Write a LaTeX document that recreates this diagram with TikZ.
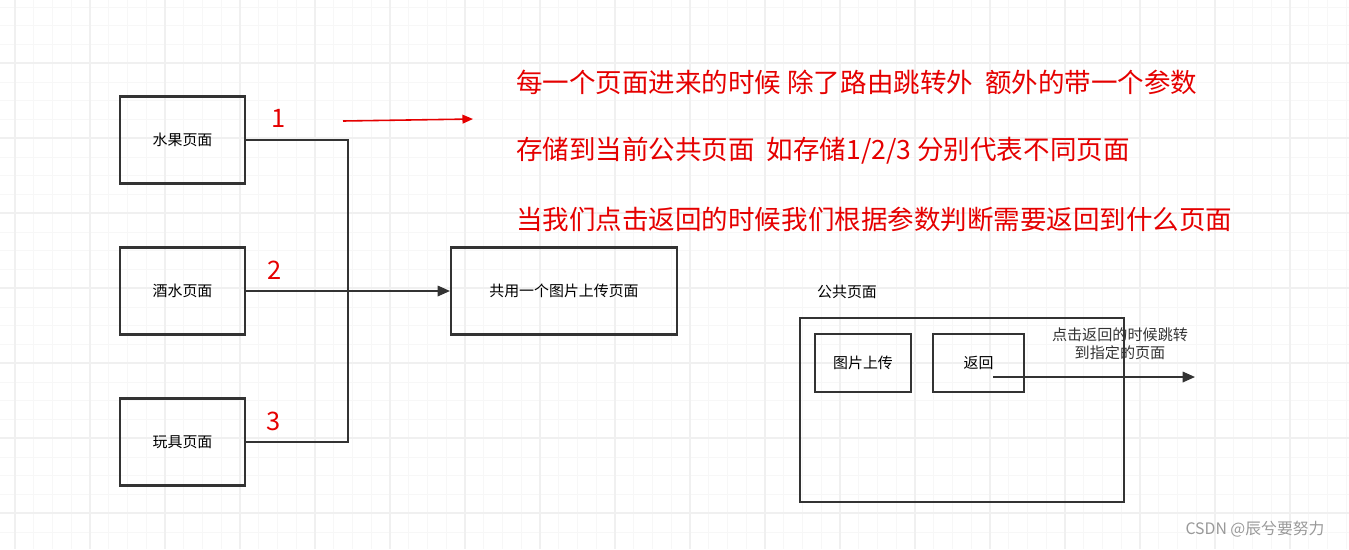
\documentclass[tikz,border=0pt]{standalone}
\usepackage{fontspec}
\setmainfont{Noto Sans CJK SC}
\usetikzlibrary{arrows.meta}

\tikzset{
  pagebox/.style={draw=black!80, line width=1.2pt, minimum width=2.5cm, minimum height=1.74cm, font=\fontsize{8.5}{10}\selectfont},
  smallbox/.style={draw=black!80, line width=1.2pt, minimum width=1.92cm, minimum height=1.16cm, font=\fontsize{8.5}{10}\selectfont},
  link/.style={draw=black!80, line width=0.9pt},
  redtext/.style={text=red!90!black, font=\fontsize{15.1}{18}\selectfont, anchor=west},
  rednum/.style={text=red!90!black, font=\fontsize{14.5}{17}\selectfont}
}

\begin{document}
\begin{tikzpicture}[x=0.02cm, y=-0.02cm]
  \useasboundingbox (0,0) rectangle (1349,549);

  % --- grid background ---
  \foreach \i in {0,...,71} {
    \pgfmathsetmacro{\gx}{15+18.75*\i}
    \draw[black!3, line width=0.5pt] (\gx,0) -- (\gx,549);
  }
  \foreach \j in {0,...,29} {
    \pgfmathsetmacro{\gy}{7+18.75*\j}
    \draw[black!3, line width=0.5pt] (0,\gy) -- (1349,\gy);
  }
  \foreach \i in {0,...,17} {
    \pgfmathsetmacro{\gx}{15+75*\i}
    \draw[black!6, line width=0.6pt] (\gx,0) -- (\gx,549);
  }
  \foreach \j in {0,...,7} {
    \pgfmathsetmacro{\gy}{63+75*\j}
    \draw[black!6, line width=0.6pt] (0,\gy) -- (1349,\gy);
  }

  % --- pages ---
  \node[pagebox] (fruit) at (182.5,140) {水果页面};
  \node[pagebox] (drink) at (182.5,291) {酒水页面};
  \node[pagebox] (toy) at (182.5,442) {玩具页面};
  \node[pagebox, minimum width=4.52cm] (upload) at (564,291) {共用一个图片上传页面};

  \coordinate (jtop) at (348,140);
  \coordinate (jbot) at (348,442);
  \draw[link] (fruit.east) -- (jtop) -- (jbot) -- (toy.east);
  \draw[link, -{Triangle[length=7pt,width=6pt]}] (drink.east) -- (upload.west);

  \node[rednum] (n1) at (279,118) {1};
  \node[rednum] (n2) at (275,270) {2};
  \node[rednum] (n3) at (274,421) {3};

  \coordinate (ra) at (343,121);
  \coordinate (rb) at (473,119);
  \draw[red!90!black, line width=0.9pt, -{Triangle[length=6pt,width=5pt]}] (ra) -- (rb);

  \node[redtext] (t1) at (510,82) {每一个页面进来的时候 除了路由跳转外\ \ 额外的带一个参数};
  \node[redtext] (t2) at (510,151) {存储到当前公共页面\ \ 如存储1/2/3 分别代表不同页面};
  \node[redtext] (t3) at (510,219) {当我们点击返回的时候我们根据参数判断需要返回到什么页面};

  % --- public page ---
  \node[font=\fontsize{8.5}{10}\selectfont] (pubtitle) at (847,292) {公共页面};
  \node[draw=black!80, line width=1.2pt, minimum width=6.48cm, minimum height=3.68cm] (pub) at (962,410) {};
  \node[smallbox] (pic) at (863,363) {图片上传};
  \node[smallbox, minimum width=1.82cm] (back) at (978.5,363) {返回};
  \coordinate (bend) at (1195,377);
  \draw[link, -{Triangle[length=7pt,width=6pt]}] (993,377) -- (bend);
  \node[font=\fontsize{8.6}{10}\selectfont, align=center, black!80] (note) at (1120,344) {点击返回的时候跳转\\到指定的页面};

  \node[font=\fontsize{9}{11}\selectfont, black!40] (mark) at (1255,529) {CSDN @辰兮要努力};
\end{tikzpicture}
\end{document}
